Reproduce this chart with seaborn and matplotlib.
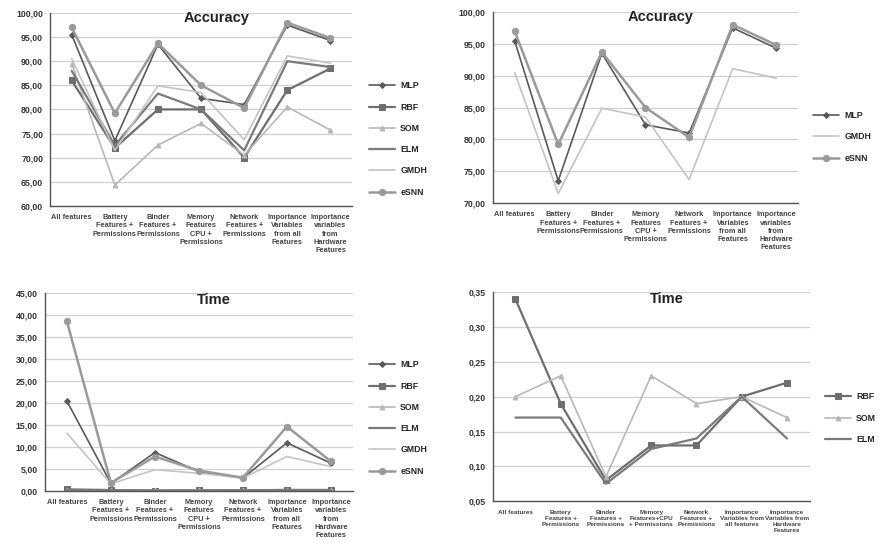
import numpy as np
import pandas as pd
import seaborn as sns
import matplotlib.pyplot as plt

categories = ["All features",
              "Battery\nFeatures +\nPermissions",
              "Binder\nFeatures +\nPermissions",
              "Memory\nFeatures\nCPU +\nPermissions",
              "Network\nFeatures +\nPermissions",
              "Importance\nVariables\nfrom all\nFeatures",
              "Importance\nvariables\nfrom\nHardware\nFeatures"]
categories_br = ["All features",
                 "Battery\nFeatures +\nPermissions",
                 "Binder\nFeatures +\nPermissions",
                 "Memory\nFeatures+CPU\n+ Permissions",
                 "Network\nFeatures +\nPermissions",
                 "Importance\nVariables from\nall features",
                 "Importance\nVariables from\nHardware\nFeatures"]

# accuracy (%)
acc_mlp = [95.5, 73.5, 93.5, 82.3, 81.0, 97.5, 94.3]
acc_rbf = [86.0, 72.0, 80.0, 80.0, 70.0, 84.0, 88.5]
acc_som = [89.5, 64.3, 72.6, 77.1, 70.5, 80.5, 75.7]
acc_elm = [88.0, 72.5, 83.3, 80.0, 71.5, 90.0, 88.8]
acc_gmdh = [90.5, 71.5, 84.9, 83.5, 73.7, 91.1, 89.6]
acc_esnn = [97.0, 79.2, 93.7, 85.0, 80.3, 98.0, 94.8]

# time
time_mlp = [20.4, 1.7, 8.7, 4.4, 2.9, 10.9, 6.3]
time_rbf = [0.34, 0.19, 0.08, 0.13, 0.13, 0.20, 0.22]
time_som = [0.20, 0.23, 0.085, 0.23, 0.19, 0.20, 0.17]
time_elm = [0.17, 0.17, 0.075, 0.125, 0.14, 0.20, 0.14]
time_gmdh = [13.1, 1.6, 4.8, 4.0, 2.9, 7.8, 5.5]
time_esnn = [38.5, 1.8, 7.8, 4.6, 3.0, 14.6, 6.7]

styles = {
    "MLP":  dict(color="#5a5a5a", marker="D", ms=3, lw=1.2),
    "RBF":  dict(color="#6e6e6e", marker="s", ms=4, lw=1.6),
    "SOM":  dict(color="#b8b8b8", marker="^", ms=3.5, lw=1.2),
    "ELM":  dict(color="#7a7a7a", marker=None, ms=0, lw=1.6),
    "GMDH": dict(color="#c4c4c4", marker=None, ms=0, lw=1.2),
    "eSNN": dict(color="#9a9a9a", marker="o", ms=4.5, lw=1.8),
}

sns.set_style("white")
plt.rcParams['font.family'] = ['Liberation Sans', 'DejaVu Sans']

fig = plt.figure(figsize=(8.8, 5.43), dpi=100)


def panel(rect, series, cats, ylim, step, title, title_y, leg_anchor, cat_size=5.3):
    ax = fig.add_axes(rect)
    x = np.arange(len(cats))
    for name, vals in series:
        st = styles[name]
        sns.lineplot(x=x, y=vals, ax=ax, color=st["color"], lw=st["lw"],
                     marker=st["marker"], markersize=st["ms"],
                     markeredgecolor=st["color"], label=name)
    ax.set_xlim(-0.5, len(cats) - 0.5)
    ax.set_ylim(*ylim)
    yt = np.arange(ylim[0], ylim[1] + step / 2, step)
    ax.set_yticks(yt)
    ax.set_yticklabels([("%.2f" % v).replace(".", ",") for v in yt],
                       fontsize=6.3, fontweight="bold", color="#333333")
    ax.set_xticks(x)
    ax.set_xticklabels(cats, fontsize=cat_size, fontweight="bold", color="#444444",
                       linespacing=1.25)
    ax.set_xticks(np.arange(-0.5, len(cats)), minor=True)
    ax.tick_params(axis="x", which="major", length=0, pad=6)
    ax.tick_params(axis="x", which="minor", length=3, color="#555555")
    ax.tick_params(axis="y", length=3, color="#555555", pad=2)
    ax.yaxis.grid(True, color="#d0d0d0", lw=0.9)
    ax.set_axisbelow(True)
    for s in ["top", "right"]:
        ax.spines[s].set_visible(False)
    for s in ["left", "bottom"]:
        ax.spines[s].set_color("#555555")
        ax.spines[s].set_linewidth(1.0)
    ax.text(0.55, title_y, title, transform=ax.transAxes, ha="center", va="center",
            fontsize=10.5, fontweight="bold", color="#222222")
    h, l = ax.get_legend_handles_labels()
    ax.legend(h, l, loc="center left", bbox_to_anchor=leg_anchor,
              bbox_transform=fig.transFigure, frameon=False,
              prop=dict(size=6.3, weight="bold"),
              handlelength=3, labelspacing=1.4, handletextpad=0.6)
    return ax


panel([0.057, 0.621, 0.343, 0.355],
      [("MLP", acc_mlp), ("RBF", acc_rbf), ("SOM", acc_som),
       ("ELM", acc_elm), ("GMDH", acc_gmdh), ("eSNN", acc_esnn)],
      categories, (60, 100), 5, "Accuracy", 0.975, (0.41, 0.744))

panel([0.560, 0.626, 0.347, 0.352],
      [("MLP", acc_mlp), ("GMDH", acc_gmdh), ("eSNN", acc_esnn)],
      categories, (70, 100), 5, "Accuracy", 0.975, (0.915, 0.748))

panel([0.051, 0.096, 0.350, 0.365],
      [("MLP", time_mlp), ("RBF", time_rbf), ("SOM", time_som),
       ("ELM", time_elm), ("GMDH", time_gmdh), ("eSNN", time_esnn)],
      categories, (0, 45), 5, "Time", 0.965, (0.41, 0.23))

panel([0.560, 0.077, 0.360, 0.385],
      [("RBF", time_rbf), ("SOM", time_som), ("ELM", time_elm)],
      categories_br, (0.05, 0.35), 0.05, "Time", 0.965, (0.928, 0.23), cat_size=4.6)

plt.savefig("out.png", dpi=100)
